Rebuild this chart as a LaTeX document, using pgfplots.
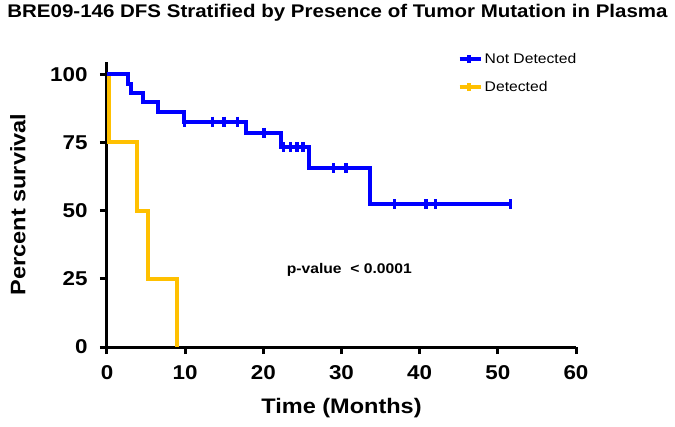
\documentclass[border=0pt]{standalone}
\usepackage{pgfplots}
\pgfplotsset{compat=1.18}
\usepackage{fontspec}
\setmainfont{Liberation Sans}[FakeStretch=1.12]
\definecolor{kmblue}{RGB}{0,0,255}
\definecolor{kmorange}{RGB}{255,192,0}
\begin{document}
\begin{tikzpicture}[x=1pt,y=1pt]
\path[use as bounding box] (0,0) rectangle (675,426);
\node[font=\bfseries\fontsize{18.3}{18.3}\selectfont, anchor=center] at (337.5,413) {BRE09-146 DFS Stratified by Presence of Tumor Mutation in Plasma};
\begin{axis}[
 at={(107pt,79pt)}, anchor=south west,
 scale only axis, width=469pt, height=285pt,
 xmin=0, xmax=60, ymin=0, ymax=104.5,
 axis x line=bottom, axis y line=left,
 axis line style={-, line width=3pt},
 xtick={0,10,...,60}, ytick={0,25,50,75,100},
 tick align=outside, major tick length=7pt,
 tick style={line width=3pt, black},
 /pgf/number format/assume math mode=true,
 tick label style={font=\bfseries\fontsize{20}{20}\selectfont},
 xticklabel style={yshift=-8pt},
 yticklabel style={xshift=-9pt},
 xlabel={Time (Months)}, ylabel={Percent survival},
 label style={font=\bfseries\fontsize{21}{21}\selectfont},
 xlabel style={at={(axis description cs:0.5,-0.214)}, anchor=center},
 ylabel style={at={(axis description cs:-0.19,0.5)}, anchor=center},
 legend style={draw=none, fill=none, at={(axis description cs:0.741,1.045)}, anchor=north west, font=\fontsize{14}{14}\selectfont, row sep=12pt, /tikz/every even column/.append style={column sep=4pt}},
 legend cell align=left,
 reverse legend,
 clip=false,
]
\addplot[kmorange, line width=4pt, const plot,
 legend image code/.code={\draw[line width=4pt] (0pt,0pt)--(21pt,0pt); \draw[line width=4pt] (9pt,-4pt)--(9pt,4pt);}]
 coordinates {(0,100) (0.2,75) (3.9,50) (5.3,25) (8.9,0)};
\addlegendentry{Detected}
\addplot[kmblue, line width=4pt, const plot,
 legend image code/.code={\draw[line width=4pt] (0pt,0pt)--(21pt,0pt); \draw[line width=4pt] (9pt,-4pt)--(9pt,4pt);}]
 coordinates {(0,100) (2.7,96.5) (3.1,93.1) (4.6,89.7) (6.5,86.2) (9.9,82.6) (17.8,78.5) (22.2,73.2) (25.9,65.6) (33.7,52.3) (51.6,52.3)};
\addlegendentry{Not Detected}
\addplot[kmblue, only marks, mark=|, mark size=5pt, mark options={line width=3.5pt}, forget plot]
 coordinates {(9.9,82.6) (13.5,82.6) (15.0,82.6) (16.7,82.6) (20.1,78.5) (22.6,73.2) (23.5,73.2) (24.3,73.2) (25.1,73.2) (29.0,65.6) (30.6,65.6) (36.8,52.3) (40.8,52.3) (42.0,52.3) (51.6,52.3)};
\node[font=\bfseries\fontsize{14}{14}\selectfont] at (axis cs:31,28.2) {p-value\ \ {<} 0.0001};
\end{axis}
\end{tikzpicture}
\end{document}
